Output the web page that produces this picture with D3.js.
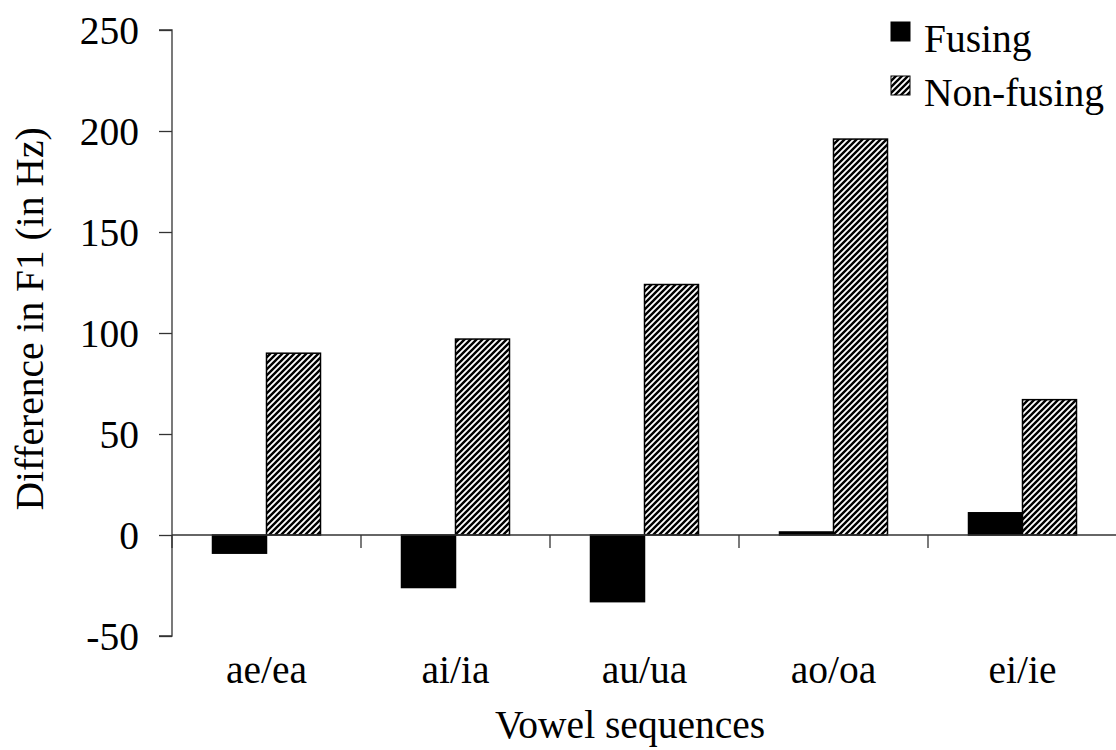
<!DOCTYPE html>
<html>
<head>
<meta charset="utf-8">
<script src="https://cdn.jsdelivr.net/npm/d3@7"></script>
<style>
  html, body { margin: 0; padding: 0; background: #fff; }
  svg { display: block; }
  text { font-family: "Liberation Serif", "Times New Roman", serif; fill: #000; }
</style>
</head>
<body>
<svg id="chart" width="1116" height="750"></svg>
<script>
const categories = ["ae/ea", "ai/ia", "au/ua", "ao/oa", "ei/ie"];
const seriesNames = ["Fusing", "Non-fusing"];
const fusing = [-9, -26, -33, 1.5, 11];
const nonFusing = [90, 97, 124, 196, 67];
const yTicks = [-50, 0, 50, 100, 150, 200, 250];

(function () {
const svg = d3.select("#chart");
const mLeft = 172, mRight = 1117, mTop = 30, mBottom = 636;
const fontSize = 39.5;

const defs = svg.append("defs");
const P = 6;
const pat = defs.append("pattern")
  .attr("id", "hatch")
  .attr("patternUnits", "userSpaceOnUse")
  .attr("width", P).attr("height", P);
pat.append("rect").attr("width", P).attr("height", P).attr("fill", "#fff");
pat.append("path")
  .attr("d", `M-1,1 l2,-2 M0,${P} l${P},-${P} M${P-1},${P+1} l2,-2`)
  .attr("stroke", "#000").attr("stroke-width", 2.4);

const x = d3.scaleBand().domain(categories).range([mLeft, mRight])
  .paddingInner(81/189).paddingOuter(81/189/2);
const xs = d3.scaleBand().domain(seriesNames).range([0, x.bandwidth()]);
const y = d3.scaleLinear().domain([-50, 250]).range([mBottom, mTop]);

const data = categories.map((c, i) => ({cat: c, vals: [fusing[i], nonFusing[i]]}));

// bars
const g = svg.append("g");
data.forEach(d => {
  d.vals.forEach((v, j) => {
    const y0 = y(0), y1 = y(v);
    g.append("rect")
      .attr("x", x(d.cat) + xs(seriesNames[j]))
      .attr("y", Math.min(y0, y1))
      .attr("width", xs.bandwidth())
      .attr("height", Math.abs(y1 - y0))
      .attr("fill", j === 0 ? "#000" : "url(#hatch)")
      .attr("stroke", "#000")
      .attr("stroke-width", 1.5);
  });
});

// y axis
const yAxis = d3.axisLeft(y).tickValues(yTicks).tickSize(13).tickPadding(20)
  .tickFormat(d => String(d));
const ya = svg.append("g").attr("transform", `translate(${mLeft},0)`).call(yAxis);
ya.selectAll("path, line").attr("stroke", "#333").attr("stroke-width", 1.3);
ya.select(".domain").attr("d", `M-13,${mTop}H0V${mBottom}H-13`);
ya.selectAll("text").attr("font-size", fontSize).attr("dy", "0.34em");

// x axis line at zero
const xa = svg.append("g");
xa.append("line").attr("x1", mLeft).attr("x2", mRight).attr("y1", y(0)).attr("y2", y(0))
  .attr("stroke", "#333").attr("stroke-width", 1.3);
const step = x.step();
d3.range(categories.length).forEach(i => {
  const xx = mLeft + i * step;
  xa.append("line").attr("x1", xx).attr("x2", xx).attr("y1", y(0)).attr("y2", y(0) + 13)
    .attr("stroke", "#333").attr("stroke-width", 1.3);
});
// category labels
categories.forEach(c => {
  svg.append("text")
    .attr("x", x(c) + x.bandwidth() / 2)
    .attr("y", 683)
    .attr("text-anchor", "middle")
    .attr("font-size", fontSize)
    .text(c);
});

// axis titles
svg.append("text").attr("x", 630).attr("y", 738).attr("text-anchor", "middle")
  .attr("font-size", fontSize).text("Vowel sequences");
svg.append("text").attr("transform", "translate(43,319) rotate(-90)")
  .attr("text-anchor", "middle").attr("font-size", fontSize)
  .text("Difference in F1 (in Hz)");

// legend
const leg = svg.append("g");
seriesNames.forEach((s, i) => {
  const ly = 22 + i * 54;
  leg.append("rect").attr("x", 891).attr("y", ly).attr("width", 19).attr("height", 19)
    .attr("fill", i === 0 ? "#000" : "url(#hatch)").attr("stroke", "#000").attr("stroke-width", 1);
  leg.append("text").attr("x", 924).attr("y", ly + 30)
    .attr("font-size", fontSize).text(s);
});
})();
</script>
</body>
</html>
